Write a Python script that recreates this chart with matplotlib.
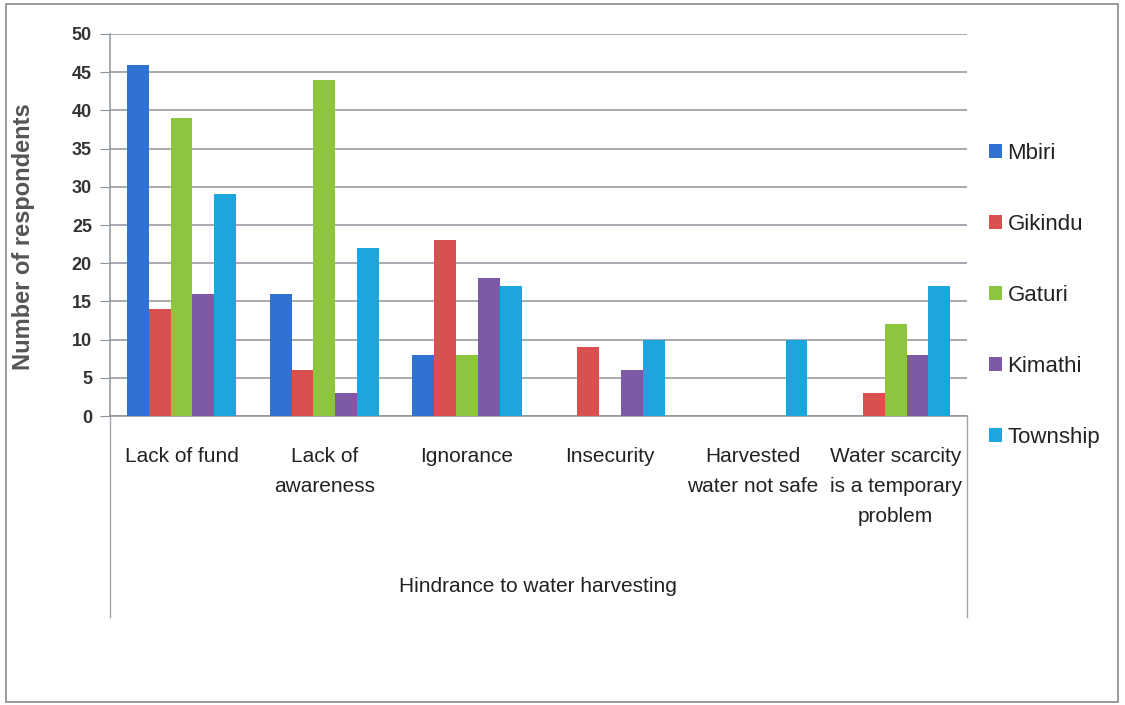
import matplotlib
matplotlib.use("Agg")
import matplotlib.pyplot as plt
from matplotlib.patches import Rectangle
import numpy as np

plt.rcParams['font.family'] = ['Liberation Sans', 'DejaVu Sans']

categories = ["Lack of fund", "Lack of\nawareness", "Ignorance", "Insecurity",
              "Harvested\nwater not safe", "Water scarcity\nis a temporary\nproblem"]
series_names = ["Mbiri", "Gikindu", "Gaturi", "Kimathi", "Township"]
mbiri = [46, 16, 8, 0, 0, 0]
gikindu = [14, 6, 23, 9, 0, 3]
gaturi = [39, 44, 8, 0, 0, 12]
kimathi = [16, 3, 18, 6, 0, 8]
township = [29, 22, 17, 10, 10, 17]
y_ticks = [0, 5, 10, 15, 20, 25, 30, 35, 40, 45, 50]

colors = ["#2f72d2", "#d9504e", "#8cc63e", "#7d5aa6", "#1da6de"]
values = [mbiri, gikindu, gaturi, kimathi, township]

fig = plt.figure(figsize=(11.25, 7.05), dpi=100)
fig.patch.set_facecolor("white")
fig.add_artist(Rectangle((0.005, 0.004), 0.989, 0.99, transform=fig.transFigure,
                         fill=False, edgecolor="#8a8a8a", linewidth=1.2))

ax = fig.add_axes([0.0978, 0.4099, 0.7618, 0.5419])
x = np.arange(len(categories))
bw = 0.153
for i, (name, vals, c) in enumerate(zip(series_names, values, colors)):
    ax.bar(x + (i - 2) * bw, vals, width=bw, color=c, label=name, zorder=3,
           linewidth=0)

ax.set_xlim(-0.5, len(categories) - 0.5)
ax.set_ylim(0, 50)
ax.set_yticks(y_ticks)
ax.set_yticklabels([str(t) for t in y_ticks], fontsize=13, fontweight="bold", color="#333333")
ax.yaxis.grid(True, color="#8e949c", linewidth=1.1, zorder=0)
ax.set_axisbelow(True)
for s in ["top", "right"]:
    ax.spines[s].set_visible(False)
ax.spines["left"].set_color("#8e949c")
ax.spines["bottom"].set_color("#8e949c")
ax.spines["left"].set_linewidth(1.1)
ax.spines["bottom"].set_linewidth(1.1)
ax.tick_params(axis="y", length=7, color="#8e949c", pad=6)
ax.tick_params(axis="x", length=0, pad=22)
ax.set_xticks(x)
ax.set_xticklabels(categories, fontsize=15, color="#222222", linespacing=1.75, va="top")

# frame lines beneath the category axis
for xp in (0.0, 1.0):
    ax.plot([xp, xp], [0, -0.526], transform=ax.transAxes, color="#a0a4aa",
            linewidth=1.0, clip_on=False)

ax.set_ylabel("Number of respondents", fontsize=17, fontweight="bold", color="#555555")
ax.yaxis.set_label_coords(-0.087, 0.469)
fig.text(0.478, 1 - 587 / 705, "Hindrance to water harvesting", fontsize=15,
         color="#222222", ha="center", va="center")

leg = fig.legend(loc="center left", bbox_to_anchor=(0.861, 0.581), frameon=False,
                 fontsize=16, handlelength=0.6, handleheight=0.6, handletextpad=0.25,
                 labelspacing=2.25)
for t in leg.get_texts():
    t.set_color("#222222")

fig.savefig("out.png", dpi=100, facecolor="white")
